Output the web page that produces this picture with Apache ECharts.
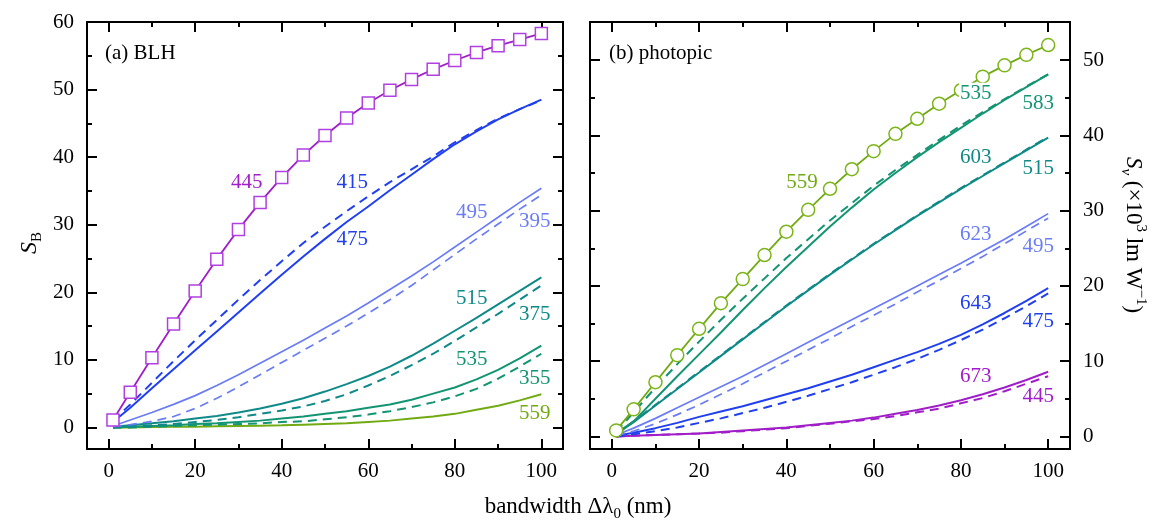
<!DOCTYPE html>
<html>
<head>
<meta charset="utf-8">
<script src="https://cdn.jsdelivr.net/npm/echarts@6/dist/echarts.min.js"></script>
<style>
html, body { margin: 0; padding: 0; background: #fff; }
#chart { width: 1153px; height: 522px; }
</style>
</head>
<body>
<div id="chart"></div>
<script>
// bandwidth (nm)
var xs = [1, 5, 10, 15, 20, 25, 30, 35, 40, 45, 50, 55, 60, 65, 70, 75, 80, 85, 90, 95, 100];

// (a) BLH
var a445 = [1.1, 5.2, 10.3, 15.3, 20.2, 24.9, 29.3, 33.3, 37.0, 40.3, 43.2, 45.8, 48.0, 49.9, 51.5, 53.0, 54.3, 55.5, 56.5, 57.4, 58.3];
var a475 = [0.8, 2.9, 5.8, 8.6, 11.4, 14.2, 17.0, 19.8, 22.6, 25.3, 27.9, 30.4, 32.7, 35.1, 37.4, 39.7, 41.9, 43.8, 45.6, 47.1, 48.5];
var a415 = [1.0, 3.4, 6.6, 9.8, 12.9, 15.9, 18.9, 21.8, 24.6, 27.3, 29.7, 32.0, 34.2, 36.3, 38.2, 40.1, 42.2, 44.0, 45.7, 47.1, 48.4];
var a495 = [0.2, 1.1, 2.2, 3.4, 4.7, 6.2, 7.8, 9.5, 11.2, 12.9, 14.7, 16.5, 18.4, 20.4, 22.4, 24.5, 26.7, 28.9, 31.1, 33.3, 35.4];
var a395 = [0.1, 0.4, 0.9, 1.6, 2.8, 4.3, 6.0, 7.8, 9.6, 11.4, 13.2, 15.0, 16.9, 18.9, 21.0, 23.3, 25.6, 27.9, 30.1, 32.3, 34.4];
var a515 = [0.1, 0.3, 0.6, 0.9, 1.3, 1.7, 2.2, 2.8, 3.5, 4.3, 5.3, 6.4, 7.6, 9.0, 10.6, 12.4, 14.3, 16.2, 18.2, 20.2, 22.2];
var a375 = [0.0, 0.1, 0.3, 0.5, 0.8, 1.1, 1.5, 2.0, 2.5, 3.1, 3.9, 4.9, 6.2, 7.6, 9.2, 10.9, 12.8, 14.8, 16.8, 18.9, 21.0];
var a535 = [0.0, 0.1, 0.2, 0.3, 0.5, 0.6, 0.8, 1.0, 1.3, 1.6, 2.0, 2.4, 2.9, 3.4, 4.1, 5.0, 5.9, 7.1, 8.5, 10.2, 12.1];
var a355 = [0.0, 0.0, 0.1, 0.2, 0.3, 0.4, 0.5, 0.6, 0.8, 0.9, 1.2, 1.5, 1.9, 2.4, 3.0, 3.7, 4.6, 5.7, 7.2, 9.0, 10.9];
var a559 = [0.0, 0.0, 0.05, 0.1, 0.1, 0.15, 0.2, 0.25, 0.3, 0.4, 0.5, 0.6, 0.8, 1.0, 1.3, 1.6, 2.0, 2.6, 3.2, 4.0, 4.9];

// (b) photopic
var b559 = [0.8, 3.6, 7.2, 10.8, 14.3, 17.7, 20.9, 24.1, 27.2, 30.1, 32.9, 35.5, 37.9, 40.2, 42.2, 44.2, 46.0, 47.8, 49.3, 50.7, 52.0];
var b583 = [0.4, 2.0, 5.0, 8.0, 10.9, 13.8, 16.8, 19.7, 22.5, 25.2, 27.9, 30.4, 32.8, 35.0, 37.1, 39.1, 41.0, 42.9, 44.7, 46.4, 48.1];
var b535 = [0.6, 3.2, 6.5, 9.6, 12.6, 15.5, 18.3, 21.0, 23.7, 26.2, 28.7, 31.0, 33.3, 35.4, 37.4, 39.4, 41.3, 43.1, 44.8, 46.5, 48.1];
var b603 = [0.3, 1.9, 4.1, 6.3, 8.5, 10.7, 12.9, 15.1, 17.3, 19.4, 21.5, 23.5, 25.5, 27.4, 29.3, 31.1, 32.9, 34.6, 36.3, 38.0, 39.7];
var b515 = [0.3, 2.0, 4.2, 6.4, 8.6, 10.8, 13.0, 15.2, 17.4, 19.5, 21.6, 23.6, 25.6, 27.5, 29.4, 31.2, 33.0, 34.7, 36.4, 38.1, 39.8];
var b623 = [0.2, 1.1, 2.4, 3.8, 5.2, 6.6, 8.0, 9.5, 11.0, 12.5, 14.0, 15.5, 17.0, 18.5, 20.0, 21.5, 23.0, 24.6, 26.2, 27.9, 29.6];
var b495 = [0.1, 0.7, 1.7, 2.9, 4.2, 5.6, 7.0, 8.5, 10.0, 11.5, 13.0, 14.6, 16.1, 17.6, 19.2, 20.7, 22.3, 23.9, 25.6, 27.3, 29.0];
var b643 = [0.1, 0.5, 1.1, 1.8, 2.6, 3.3, 4.0, 4.8, 5.6, 6.4, 7.3, 8.2, 9.2, 10.2, 11.2, 12.3, 13.5, 14.9, 16.4, 18.0, 19.7];
var b475 = [0.0, 0.3, 0.7, 1.2, 1.8, 2.4, 3.1, 3.8, 4.6, 5.4, 6.3, 7.2, 8.2, 9.2, 10.3, 11.5, 12.8, 14.2, 15.7, 17.3, 19.0];
var b673 = [0.0, 0.1, 0.2, 0.3, 0.4, 0.6, 0.8, 1.0, 1.2, 1.5, 1.8, 2.1, 2.5, 3.0, 3.5, 4.1, 4.8, 5.6, 6.5, 7.5, 8.6];
var b445 = [0.0, 0.1, 0.2, 0.3, 0.4, 0.5, 0.7, 0.9, 1.1, 1.4, 1.7, 2.0, 2.3, 2.7, 3.2, 3.7, 4.4, 5.1, 6.0, 7.0, 8.0];

// tick values
var xMajor = [0, 20, 40, 60, 80, 100];
var xMinor = [10, 30, 50, 70, 90];
var yMajorA = [0, 10, 20, 30, 40, 50, 60];
var yMinorA = [5, 15, 25, 35, 45, 55];
var yMajorB = [0, 10, 20, 30, 40, 50];
var yMinorB = [5, 15, 25, 35, 45];

var PURPLE = '#a01ec8', BLUE = '#2040f0', LBLUE = '#6a7cf6',
    TEAL = '#0f8a88', TEAL2 = '#139472', GREEN = '#72aa14';

// curve labels: x, y, text, colour, white box
var labelsA = [
    [31.9, 36.2, '445', PURPLE],
    [56.3, 36.2, '415', BLUE],
    [56.3, 27.8, '475', BLUE],
    [83.9, 31.8, '495', LBLUE],
    [98.5, 30.5, '395', LBLUE],
    [83.9, 19.1, '515', TEAL],
    [98.5, 16.7, '375', TEAL],
    [83.9, 10.0, '535', TEAL2],
    [98.5, 7.3, '355', TEAL2],
    [98.5, 2.1, '559', GREEN]
];
var labelsB = [
    [43.6, 33.7, '559', GREEN],
    [83.4, 45.6, '535', TEAL2, true],
    [97.7, 44.3, '583', TEAL2],
    [83.4, 37.0, '603', TEAL],
    [97.7, 35.6, '515', TEAL],
    [83.4, 26.8, '623', LBLUE],
    [97.7, 25.2, '495', LBLUE],
    [83.4, 17.7, '643', BLUE],
    [97.7, 15.3, '475', BLUE],
    [83.4, 8.0, '673', PURPLE],
    [97.7, 5.3, '445', PURPLE]
];

var FONT = 'Liberation Serif, Times New Roman, serif';

function pairs(vals) {
    return xs.map(function (x, i) { return [x, vals[i]]; });
}

function xAx(grid, pos, ticks, len, withLabels) {
    return {
        type: 'value', gridIndex: grid, position: pos, min: -5, max: 105,
        axisLine: {show: false, onZero: false}, splitLine: {show: false},
        axisTick: {show: true, inside: true, length: len, customValues: ticks,
            lineStyle: {color: '#000', width: 2}},
        axisLabel: withLabels ? {show: true, customValues: ticks, margin: 12,
            fontFamily: FONT, fontSize: 21, color: '#000'} : {show: false}
    };
}

function yAx(grid, pos, min, max, ticks, len, withLabels) {
    return {
        type: 'value', gridIndex: grid, position: pos, min: min, max: max,
        axisLine: {show: false, onZero: false}, splitLine: {show: false},
        axisTick: {show: true, inside: true, length: len, customValues: ticks,
            lineStyle: {color: '#000', width: 2}},
        axisLabel: withLabels ? {show: true, customValues: ticks, margin: 13,
            fontFamily: FONT, fontSize: 21, color: '#000'} : {show: false}
    };
}

function curve(panel, vals, color, dashed, width) {
    return {
        type: 'line', xAxisIndex: panel * 4, yAxisIndex: panel * 4,
        data: pairs(vals), symbol: 'none', silent: true, z: 3,
        lineStyle: {color: color, width: width || 2, type: dashed ? [9, 6] : 'solid'}
    };
}

function marked(panel, vals, color, border, symbol, size) {
    return {
        type: 'line', xAxisIndex: panel * 4, yAxisIndex: panel * 4,
        data: pairs(vals), symbol: symbol, symbolSize: size, showSymbol: true, silent: true, z: 5,
        lineStyle: {color: color, width: 1.8},
        itemStyle: {color: '#fff', borderColor: border, borderWidth: 1.5}
    };
}

function labelSeries(panel, list) {
    return {
        type: 'scatter', xAxisIndex: panel * 4, yAxisIndex: panel * 4,
        symbolSize: 0, silent: true, z: 10,
        itemStyle: {opacity: 1},
        label: {show: true, position: 'inside', fontFamily: FONT, fontSize: 21},
        data: list.map(function (l) {
            return {
                value: [l[0], l[1]],
                label: {formatter: l[2], color: l[3], opacity: 1,
                    backgroundColor: l[4] ? '#fff' : 'transparent', padding: l[4] ? [0, 1] : 0}
            };
        })
    };
}

var chart = echarts.init(document.getElementById('chart'));
chart.setOption({
    animation: false,
    backgroundColor: '#fff',
    grid: [
        {left: 87, top: 22, width: 476, height: 427, show: true, borderColor: '#000', borderWidth: 2},
        {left: 590, top: 22, width: 480, height: 427, show: true, borderColor: '#000', borderWidth: 2}
    ],
    xAxis: [
        xAx(0, 'bottom', xMajor, 10, true),
        xAx(0, 'bottom', xMinor, 5, false),
        xAx(0, 'top', xMajor, 10, false),
        xAx(0, 'top', xMinor, 5, false),
        xAx(1, 'bottom', xMajor, 10, true),
        xAx(1, 'bottom', xMinor, 5, false),
        xAx(1, 'top', xMajor, 10, false),
        xAx(1, 'top', xMinor, 5, false)
    ],
    yAxis: [
        yAx(0, 'left', -3.2, 60, yMajorA, 10, true),
        yAx(0, 'left', -3.2, 60, yMinorA, 5, false),
        yAx(0, 'right', -3.2, 60, yMajorA, 10, false),
        yAx(0, 'right', -3.2, 60, yMinorA, 5, false),
        yAx(1, 'right', -1.67, 55.06, yMajorB, 10, true),
        yAx(1, 'right', -1.67, 55.06, yMinorB, 5, false),
        yAx(1, 'left', -1.67, 55.06, yMajorB, 10, false),
        yAx(1, 'left', -1.67, 55.06, yMinorB, 5, false)
    ],
    graphic: [
        {type: 'text', left: 105, top: 43, style: {text: '(a) BLH', fontFamily: FONT, fontSize: 21, fill: '#000'}},
        {type: 'text', left: 609, top: 43, style: {text: '(b) photopic', fontFamily: FONT, fontSize: 21, fill: '#000'}},
        {type: 'text', x: 578, y: 507, style: {
            text: 'bandwidth \u0394\u03bb{sub|0} (nm)', align: 'center', verticalAlign: 'middle',
            fontFamily: FONT, fontSize: 23, fill: '#000', lineHeight: 30,
            rich: {sub: {fontFamily: FONT, fontSize: 15, verticalAlign: 'bottom', lineHeight: 15, fill: '#000'}}
        }},
        {type: 'text', x: 30, y: 243, rotation: Math.PI / 2, style: {
            text: '{it|S}{sub|B}', align: 'center', verticalAlign: 'middle',
            fontFamily: FONT, fontSize: 23, fill: '#000', lineHeight: 30,
            rich: {
                it: {fontFamily: FONT, fontSize: 24, fontStyle: 'italic', fill: '#000', lineHeight: 30},
                sub: {fontFamily: FONT, fontSize: 15, verticalAlign: 'bottom', lineHeight: 15, fill: '#000'}
            }
        }},
        {type: 'text', x: 1133, y: 235, rotation: -Math.PI / 2, style: {
            text: '{it|S}{sub|v} (\u00d710{sup|3} lm W{sup|\u22121})', align: 'center', verticalAlign: 'middle',
            fontFamily: FONT, fontSize: 23, fill: '#000', lineHeight: 30,
            rich: {
                it: {fontFamily: FONT, fontSize: 23, fontStyle: 'italic', fill: '#000', lineHeight: 30},
                sub: {fontFamily: FONT, fontSize: 15, fontStyle: 'italic', verticalAlign: 'bottom', lineHeight: 15, fill: '#000'},
                sup: {fontFamily: FONT, fontSize: 15, verticalAlign: 'top', lineHeight: 15, fill: '#000'}
            }
        }}
    ],
    series: [
        curve(0, a559, GREEN, false),
        curve(0, a355, TEAL2, true),
        curve(0, a535, TEAL2, false),
        curve(0, a375, TEAL, true),
        curve(0, a515, TEAL, false),
        curve(0, a395, LBLUE, true, 1.7),
        curve(0, a495, LBLUE, false, 1.7),
        curve(0, a415, BLUE, true),
        curve(0, a475, BLUE, false),
        marked(0, a445, PURPLE, '#b040e0', 'rect', 12),
        labelSeries(0, labelsA),

        curve(1, b445, PURPLE, true),
        curve(1, b673, PURPLE, false),
        curve(1, b475, BLUE, true),
        curve(1, b643, BLUE, false),
        curve(1, b495, LBLUE, true, 1.7),
        curve(1, b623, LBLUE, false, 1.7),
        curve(1, b515, TEAL, true),
        curve(1, b603, TEAL, false),
        curve(1, b535, TEAL2, true),
        curve(1, b583, TEAL2, false),
        marked(1, b559, GREEN, '#7cb51a', 'circle', 13),
        labelSeries(1, labelsB)
    ]
});
</script>
</body>
</html>
